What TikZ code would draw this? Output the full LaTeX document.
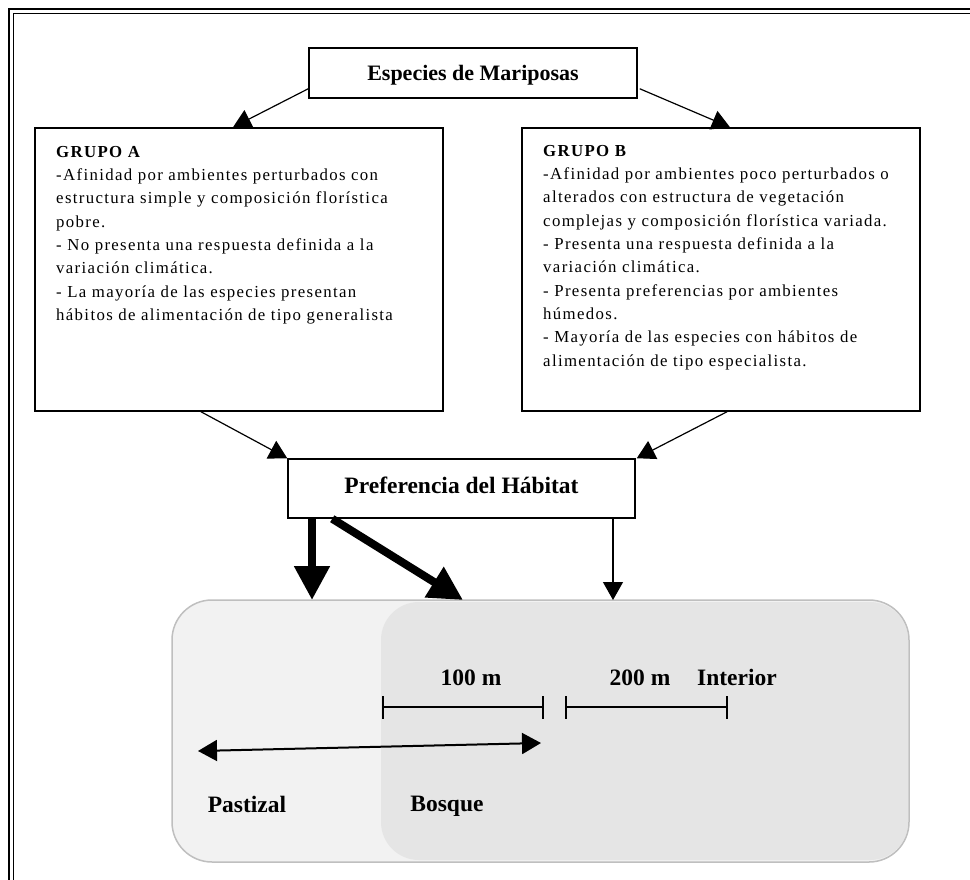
\documentclass[tikz,border=0pt]{standalone}
\usepackage{fontspec}
\setmainfont{Liberation Serif}
\newfontfamily\spaced[LetterSpace=8]{Liberation Serif}
\usetikzlibrary{arrows.meta,calc}

\begin{document}
\begin{tikzpicture}[x=1pt,y=-1pt,
  caja/.style={draw,line width=1.5pt,fill=white,inner sep=0pt},
  titulo/.style={font=\bfseries\fontsize{23.5}{26}\selectfont,inner sep=0pt},
  texto/.style={align=left,inner sep=0pt,font=\spaced\fontsize{16.8}{23.3}\selectfont},
  flecha/.style={line width=1.2pt,-{Triangle[length=18pt,width=20pt]}},
  gruesa/.style={line width=8pt,-{Triangle[length=34pt,width=34pt]}},
  barra/.style={line width=1.5pt}]

 \useasboundingbox (0,0) rectangle (970,879);
 % marco doble
 \draw[line width=1.8pt] (9,9) rectangle (990,900);
 \draw[line width=1.5pt] (13.5,13.5) rectangle (985,895);

 % paisaje: pastizal y bosque
 \fill[black!5,rounded corners=40pt] (172,600) rectangle (909,862);
 \fill[black!10,rounded corners=38pt] (381,602) rectangle (908,860);
 \draw[black!25,line width=1.5pt,rounded corners=40pt] (172,600) rectangle (909,862);

 % cajas
 \node[caja,minimum width=328pt,minimum height=50pt] (esp) at (473,73) {};
 \node[titulo,font=\bfseries\fontsize{22}{26}\selectfont,anchor=base] (tesp) at (473,80) {Especies de Mariposas};
 \node[caja,minimum width=408pt,minimum height=283pt] (grpA) at (239,269.5) {};
 \node[caja,minimum width=398pt,minimum height=283pt] (grpB) at (721,269.5) {};
 \node[caja,minimum width=347pt,minimum height=59pt] (pref) at (461.5,488.5) {};
 \node[titulo,anchor=base] (tpref) at (461.5,493) {Preferencia del H\'abitat};

 \node[texto,anchor=north west] (txtA) at (56,146) {{\bfseries GRUPO A}\\
 -Afinidad por ambientes perturbados con\\
 estructura simple y composición florística\\
 pobre.\\
 - No presenta una respuesta definida a la\\
 variación climática.\\
 - La mayoría de las especies presentan\\
 hábitos de alimentación de tipo generalista};

 \node[texto,anchor=north west] (txtB) at (543,145) {{\bfseries GRUPO B}\\
 -Afinidad por ambientes poco perturbados o\\
 alterados con estructura de vegetación\\
 complejas y composición florística variada.\\
 - Presenta una respuesta definida a la\\
 variación climática.\\
 - Presenta preferencias por ambientes\\
 húmedos.\\
 - Mayoría de las especies con hábitos de\\
 alimentación de tipo especialista.};

 % flechas
 \draw[flecha] ($(esp.south west)+(0,-10)$) -- (233,0 |- grpA.north);
 \draw[flecha] ($(esp.south east)+(2,-10)$) -- (730,0 |- grpB.north);
 \draw[flecha] (201,0 |- grpA.south) -- (pref.north west);
 \draw[flecha] (727,0 |- grpB.south) -- ($(pref.north east)+(1,0)$);

 \coordinate (pasto) at (312,600);
 \coordinate (borde) at (463,600);
 \coordinate (inter) at (613,600);
 \draw[gruesa] (312,0 |- pref.south) -- (pasto);
 \draw[gruesa] ($(pref.south west)+(45,0)$) -- (borde);
 \draw[flecha] (613,0 |- pref.south) -- (inter);

 % escalas
 \coordinate (a1) at (383,707);
 \coordinate (a2) at (543,707);
 \coordinate (b1) at (566,707);
 \coordinate (b2) at (727,707);
 \draw[barra] (a1) -- (a2) ($(a1)+(0,-11)$) -- ($(a1)+(0,12)$) ($(a2)+(0,-11)$) -- ($(a2)+(0,12)$);
 \draw[barra] (b1) -- (b2) ($(b1)+(0,-11)$) -- ($(b1)+(0,12)$) ($(b2)+(0,-11)$) -- ($(b2)+(0,12)$);
 \node[titulo,anchor=base] (cien) at (471,685) {100 m};
 \node[titulo,anchor=base] (dos) at (640,685) {200 m};
 \node[titulo,anchor=base] (int) at (737,685) {Interior};

 \coordinate (pl) at (198,751);
 \coordinate (pr) at (541,743);
 \draw[line width=2pt,{Triangle[length=19pt,width=21pt]}-{Triangle[length=19pt,width=21pt]}] (pl) -- (pr);

 \node[titulo,anchor=base] (pastizal) at (247,812) {Pastizal};
 \node[titulo,anchor=base] (bosque) at (447,811) {Bosque};
\end{tikzpicture}
\end{document}
